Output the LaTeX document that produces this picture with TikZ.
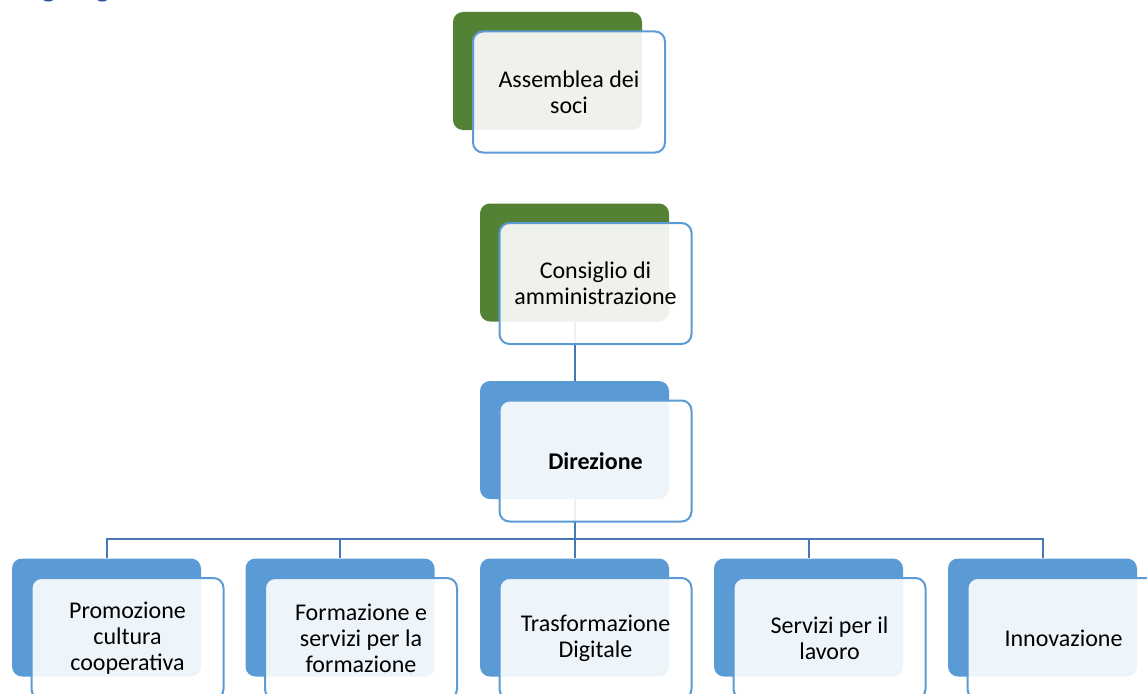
\documentclass[tikz,border=0pt]{standalone}
\usepackage{fontspec}
\setmainfont{Carlito}
\definecolor{leafgreen}{RGB}{84,130,53}
\definecolor{skyblue}{RGB}{91,155,213}
\definecolor{linkblue}{RGB}{71,120,180}
\definecolor{headblue}{RGB}{47,85,151}
\begin{document}
\begin{tikzpicture}[x=1pt,y=-1pt,
  backbox/.style={rectangle, rounded corners=10pt, minimum width=189pt,
    minimum height=118pt, inner sep=0pt, draw=none},
  greenback/.style={backbox, fill=leafgreen},
  blueback/.style={backbox, fill=skyblue},
  frontbox/.style={rectangle, rounded corners=10pt, minimum width=192pt,
    minimum height=121pt, inner sep=0pt, draw=skyblue, line width=2pt,
    fill=white, fill opacity=0.9, text opacity=1, align=center,
    font=\fontsize{24}{26}\selectfont},
  link/.style={draw=linkblue, line width=2pt}
]
\useasboundingbox (0,0) rectangle (1147,693);

% heading above the chart (only its lower part falls on the page)
\begin{scope}
  \clip (0,0) rectangle (1147,693);
  \node[anchor=base west, inner sep=0pt, text=headblue,
        font=\fontsize{32}{36}\selectfont] (title) at (9,-3) {Organigramma};
\end{scope}

% back panels
\node[greenback] (assB) at (547.5,71) {};
\node[greenback] (cdaB) at (574.5,262.5) {};
\node[blueback]  (dirB) at (574.5,440) {};
\node[blueback]  (u1B) at (106.5,617.5) {};
\node[blueback]  (u2B) at (340,617.5) {};
\node[blueback]  (u3B) at (574.5,617.5) {};
\node[blueback]  (u4B) at (808.5,617.5) {};
\node[blueback]  (u5B) at (1042.5,617.5) {};

% connectors
\coordinate (bus) at (574.5,539);
\path[link] (cdaB.south) -- (dirB.north);
\path[link] (dirB.south) -- (bus);
\foreach \u in {u1B,u2B,u3B,u4B,u5B}
  \path[link] (bus) -| (\u.north);

% front panels with the labels
\node[frontbox] (ass) at (569,92) {Assemblea dei\\soci};
\node[frontbox] (cda) at (595.5,283.5) {Consiglio di\\amministrazione};
\node[frontbox, font=\fontsize{24}{26}\selectfont\bfseries] (dir) at (595.5,461) {Direzione};
\node[frontbox] (u1) at (127.5,638.5) {Promozione\\cultura\\cooperativa};
\node[frontbox] (u2) at (361,638.5) {Formazione e\\servizi per la\\formazione};
\node[frontbox] (u3) at (595.5,638.5) {Trasformazione\\Digitale};
\node[frontbox] (u4) at (829.5,638.5) {Servizi per il\\lavoro};
\node[frontbox] (u5) at (1063.5,638.5) {Innovazione};
\end{tikzpicture}
\end{document}
